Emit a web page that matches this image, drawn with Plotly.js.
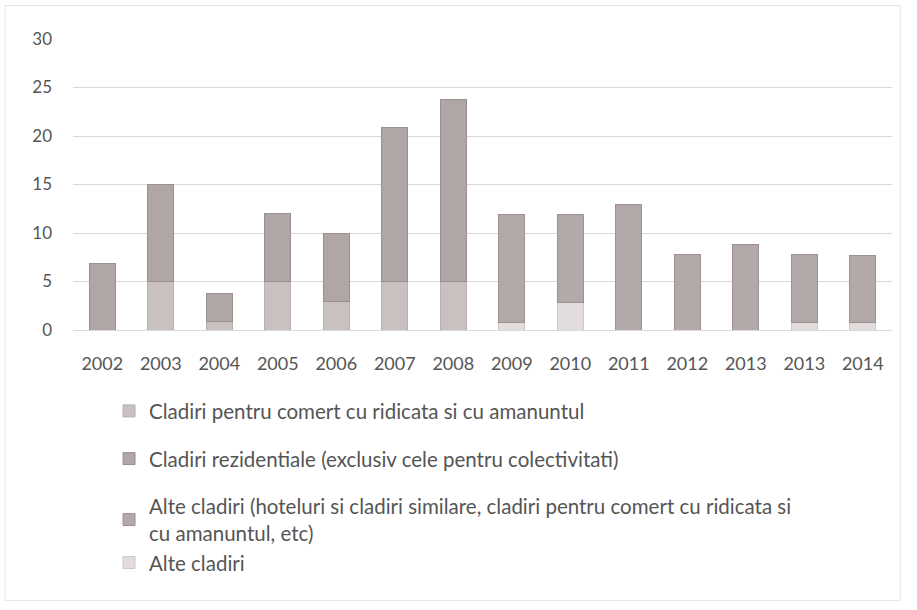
<!DOCTYPE html>
<html>
<head>
<meta charset="utf-8">
<script src="https://cdn.plot.ly/plotly-3.0.1.min.js"></script>
<style>html,body{margin:0;padding:0;background:#fff;}#chart{width:917px;height:610px;}</style>
</head>
<body>
<div id="chart"></div>
<script>
// Categories (note: "2013" appears twice in the original)
const years = ["2002","2003","2004","2005","2006","2007","2008","2009","2010","2011","2012","2013","2013","2014"];
const xPos = [0,1,2,3,4,5,6,7,8,9,10,11,12,13];

const nameComert = "Cladiri pentru comert cu ridicata si cu amanuntul";
const nameRezid = "Cladiri rezidentiale (exclusiv cele pentru colectivitati)";
const nameAlteHotel = "Alte cladiri (hoteluri si cladiri similare, cladiri pentru comert cu ridicata si<br>cu amanuntul, etc)";
const nameAlte = "Alte cladiri";

const comert     = [0, 5, 0.9, 5, 2.9, 5, 5, 0, 0, 0, 0, 0, 0, 0];
const rezid      = [6.9, 10, 2.9, 7, 7, 15.9, 18.8, 0, 0, 0, 0, 0, 0, 0];
const alte       = [0, 0, 0, 0, 0, 0, 0, 0.8, 2.8, 0, 0, 0, 0.8, 0.8];
const alteHotel  = [0, 0, 0, 0, 0, 0, 0, 11.1, 9.1, 12.9, 7.8, 8.8, 7, 6.9];

const fontFam = "Lato, 'Open Sans', sans-serif";
function bar(name, y, color, line, group, rank) {
  return {
    type: "bar", x: xPos, y: y, name: name,
    marker: {color: color, line: {color: line, width: 1}},
    width: 0.45, legendgroup: group, legendrank: rank,
    hoverinfo: "y+name"
  };
}
const data = [
  bar(nameComert, comert, "#c9c0c0", "#b9afaf", "g1", 1),
  bar(nameRezid, rezid, "#b0a6a6", "#9a8f8f", "g2", 2),
  bar(nameAlte, alte, "#e2dcdc", "#d0c8c8", "g3", 4),
  bar(nameAlteHotel, alteHotel, "#b3a9a9", "#9c9191", "g3", 3)
];

const layout = {
  width: 917, height: 610,
  barmode: "stack",
  paper_bgcolor: "#ffffff", plot_bgcolor: "#ffffff",
  margin: {l: 73, r: 25, t: 39, b: 280},
  font: {family: fontFam, size: 17, color: "#555"},
  xaxis: {
    tickmode: "array", tickvals: xPos, ticktext: years,
    range: [-0.5, 13.5], showgrid: false, zeroline: false,
    showline: false, ticks: "", ticklabelstandoff: 21,
    tickfont: {size: 18, color: "#555"}
  },
  yaxis: {
    range: [0, 30], tickvals: [0,5,10,15,20,25,30],
    gridcolor: "#d9d9d9", gridwidth: 1, zeroline: true, zerolinecolor: "#d9d9d9",
    showline: false, ticks: "", ticklabelstandoff: 20,
    tickfont: {size: 17, color: "#555"}
  },
  bargap: 0.55,
  showlegend: true,
  legend: {
    orientation: "v", x: 0.044, xanchor: "left", y: -0.21, yanchor: "top",
    traceorder: "grouped", tracegroupgap: 18,
    font: {size: 20.5, color: "#555", family: fontFam},
    itemwidth: 30, bgcolor: "rgba(0,0,0,0)"
  },
  shapes: [{
    type: "rect", xref: "paper", yref: "paper",
    x0: -0.083, x1: 1.01, y0: -0.93, y1: 1.115,
    line: {color: "#e4e4e4", width: 1}
  }]
};
Plotly.newPlot("chart", data, layout, {displayModeBar: false, staticPlot: true});
</script>
</body>
</html>
